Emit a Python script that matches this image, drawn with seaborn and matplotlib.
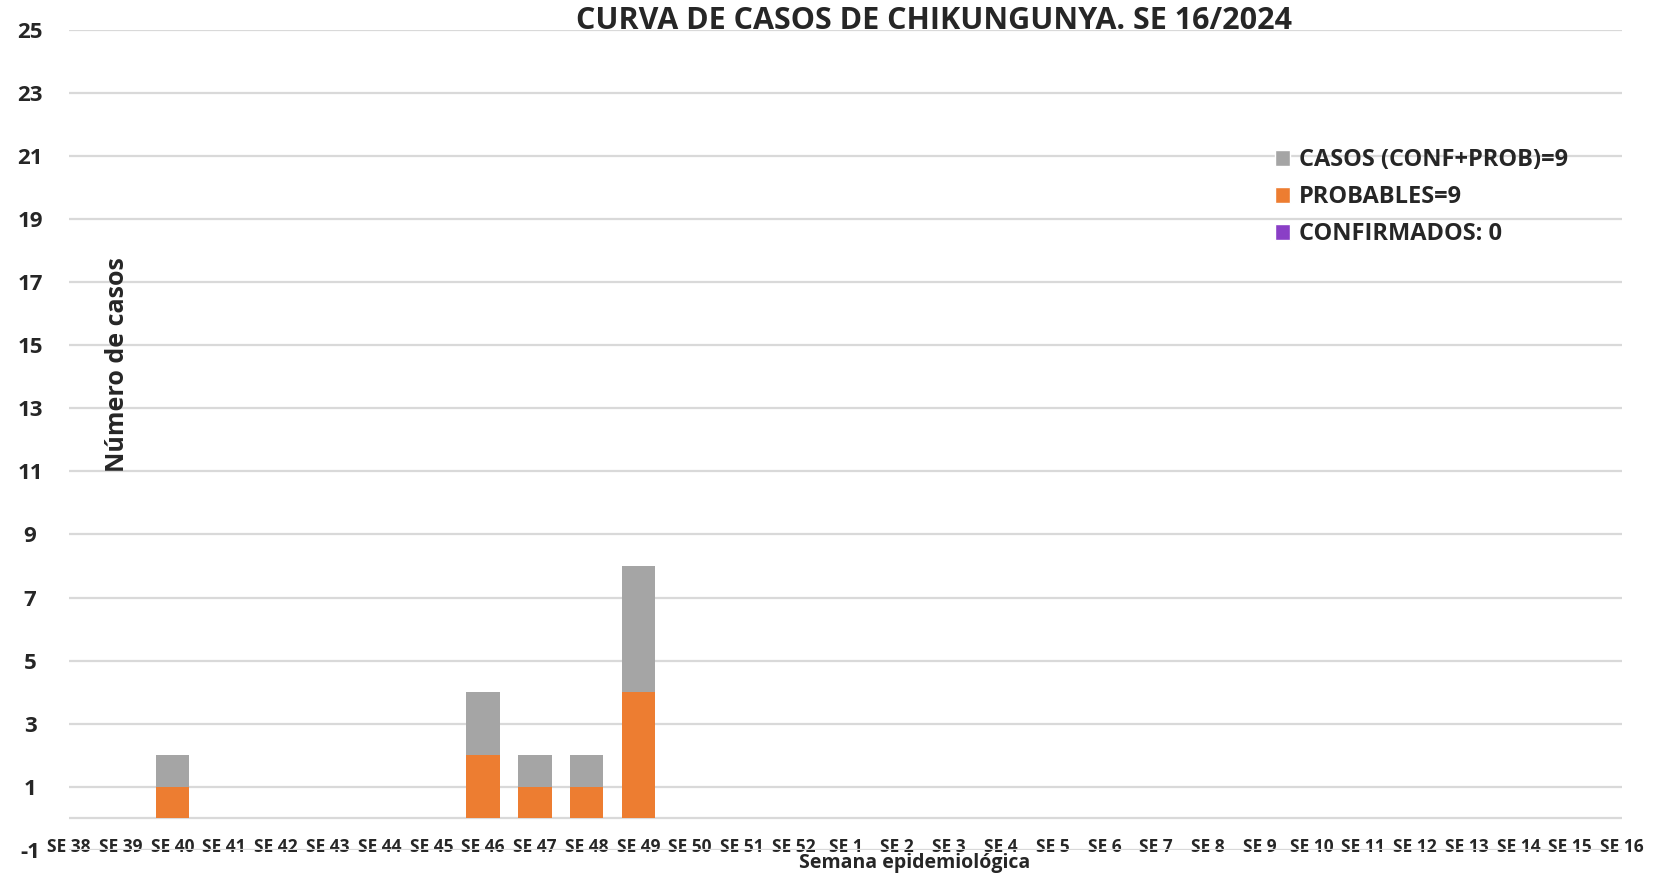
import pandas as pd
import seaborn as sns
import matplotlib.pyplot as plt
from matplotlib.patches import Patch

# Curva de casos de chikungunya, SE 38/2023 a SE 16/2024

semanas = ["SE 38", "SE 39", "SE 40", "SE 41", "SE 42", "SE 43", "SE 44", "SE 45",
           "SE 46", "SE 47", "SE 48", "SE 49", "SE 50", "SE 51", "SE 52",
           "SE 1", "SE 2", "SE 3", "SE 4", "SE 5", "SE 6", "SE 7", "SE 8",
           "SE 9", "SE 10", "SE 11", "SE 12", "SE 13", "SE 14", "SE 15", "SE 16"]
confirmados = [0, 0, 0, 0, 0, 0, 0, 0, 0, 0, 0, 0, 0, 0, 0,
               0, 0, 0, 0, 0, 0, 0, 0, 0, 0, 0, 0, 0, 0, 0, 0]
probables = [0, 0, 1, 0, 0, 0, 0, 0, 2, 1, 1, 4, 0, 0, 0,
             0, 0, 0, 0, 0, 0, 0, 0, 0, 0, 0, 0, 0, 0, 0, 0]
casos = [0, 0, 1, 0, 0, 0, 0, 0, 2, 1, 1, 4, 0, 0, 0,
         0, 0, 0, 0, 0, 0, 0, 0, 0, 0, 0, 0, 0, 0, 0, 0]
y_ticks = [-1, 1, 3, 5, 7, 9, 11, 13, 15, 17, 19, 21, 23, 25]

etiquetas = ["CASOS (CONF+PROB)=9", "PROBABLES=9", "CONFIRMADOS: 0"]

GRIS = "#A5A5A5"
NARANJA = "#ED7D31"
MORADO = "#8A3FC6"
GRID = "#D9D9D9"

df = pd.DataFrame({"semana": semanas, "confirmados": confirmados,
                   "probables": probables, "casos": casos})
# apilado: se dibuja la barra mas alta primero y encima las otras
df["medio"] = df["confirmados"] + df["probables"]
df["tope"] = df["medio"] + df["casos"]

sns.set_style("white")
plt.rcParams["font.family"] = ["Open Sans", "DejaVu Sans"]
plt.rcParams["axes.unicode_minus"] = False
narrow = ["Liberation Sans Narrow", "Open Sans", "DejaVu Sans"]

fig = plt.figure(figsize=(16.55, 8.76), dpi=100)
ax = fig.add_axes([69 / 1655, 1 - 850 / 876, (1622 - 69) / 1655, (850 - 29.5) / 876])

sns.barplot(data=df, x="semana", y="tope", color=GRIS, width=0.65,
            saturation=1, linewidth=0, zorder=3, ax=ax)
sns.barplot(data=df, x="semana", y="medio", color=NARANJA, width=0.65,
            saturation=1, linewidth=0, zorder=3, ax=ax)
sns.barplot(data=df, x="semana", y="confirmados", color=MORADO, width=0.65,
            saturation=1, linewidth=0, zorder=3, ax=ax)

ax.set_xlim(0, len(semanas) - 1)
ax.set_ylim(-1, 25)
ax.set_yticks(y_ticks)
ax.yaxis.grid(True, color=GRID, lw=1.6)
ax.axhline(0, color=GRID, lw=1.6, zorder=2)
ax.set_axisbelow(True)
sns.despine(ax=ax, left=True, bottom=True)
ax.set_xlabel("")
ax.set_ylabel("")

ax.tick_params(axis="x", length=0, pad=-9)
ax.tick_params(axis="y", length=0, pad=28, labelsize=16)
for lbl in ax.get_yticklabels():
    lbl.set_horizontalalignment("center")
    lbl.set_fontweight("bold")
for lbl in ax.get_xticklabels():
    lbl.set_fontfamily(narrow)
    lbl.set_fontsize(12.5)
    lbl.set_fontweight("bold")

fig.text(934 / 1655, 1 - 21 / 876, "CURVA DE CASOS DE CHIKUNGUNYA. SE 16/2024",
         ha="center", va="center", fontsize=22, fontweight="bold")
fig.text(117 / 1655, 1 - 365 / 876, "Número de casos", rotation=90,
         ha="center", va="center", fontsize=18, fontweight="bold")
fig.text(915 / 1655, 1 - 863 / 876, "Semana epidemiológica",
         ha="center", va="center", fontsize=14, fontweight="bold",
         family=narrow)

handles = [Patch(facecolor=GRIS, label=etiquetas[0]),
           Patch(facecolor=NARANJA, label=etiquetas[1]),
           Patch(facecolor=MORADO, label=etiquetas[2])]
fig.legend(handles=handles, loc="upper left",
           bbox_to_anchor=(1275 / 1655, 1 - 148 / 876), frameon=False,
           prop=dict(size=17, weight="bold"), handlelength=0.65,
           handleheight=0.65, handletextpad=0.35, labelspacing=0.55,
           borderpad=0, borderaxespad=0)

fig.savefig("out.png", dpi=100)
